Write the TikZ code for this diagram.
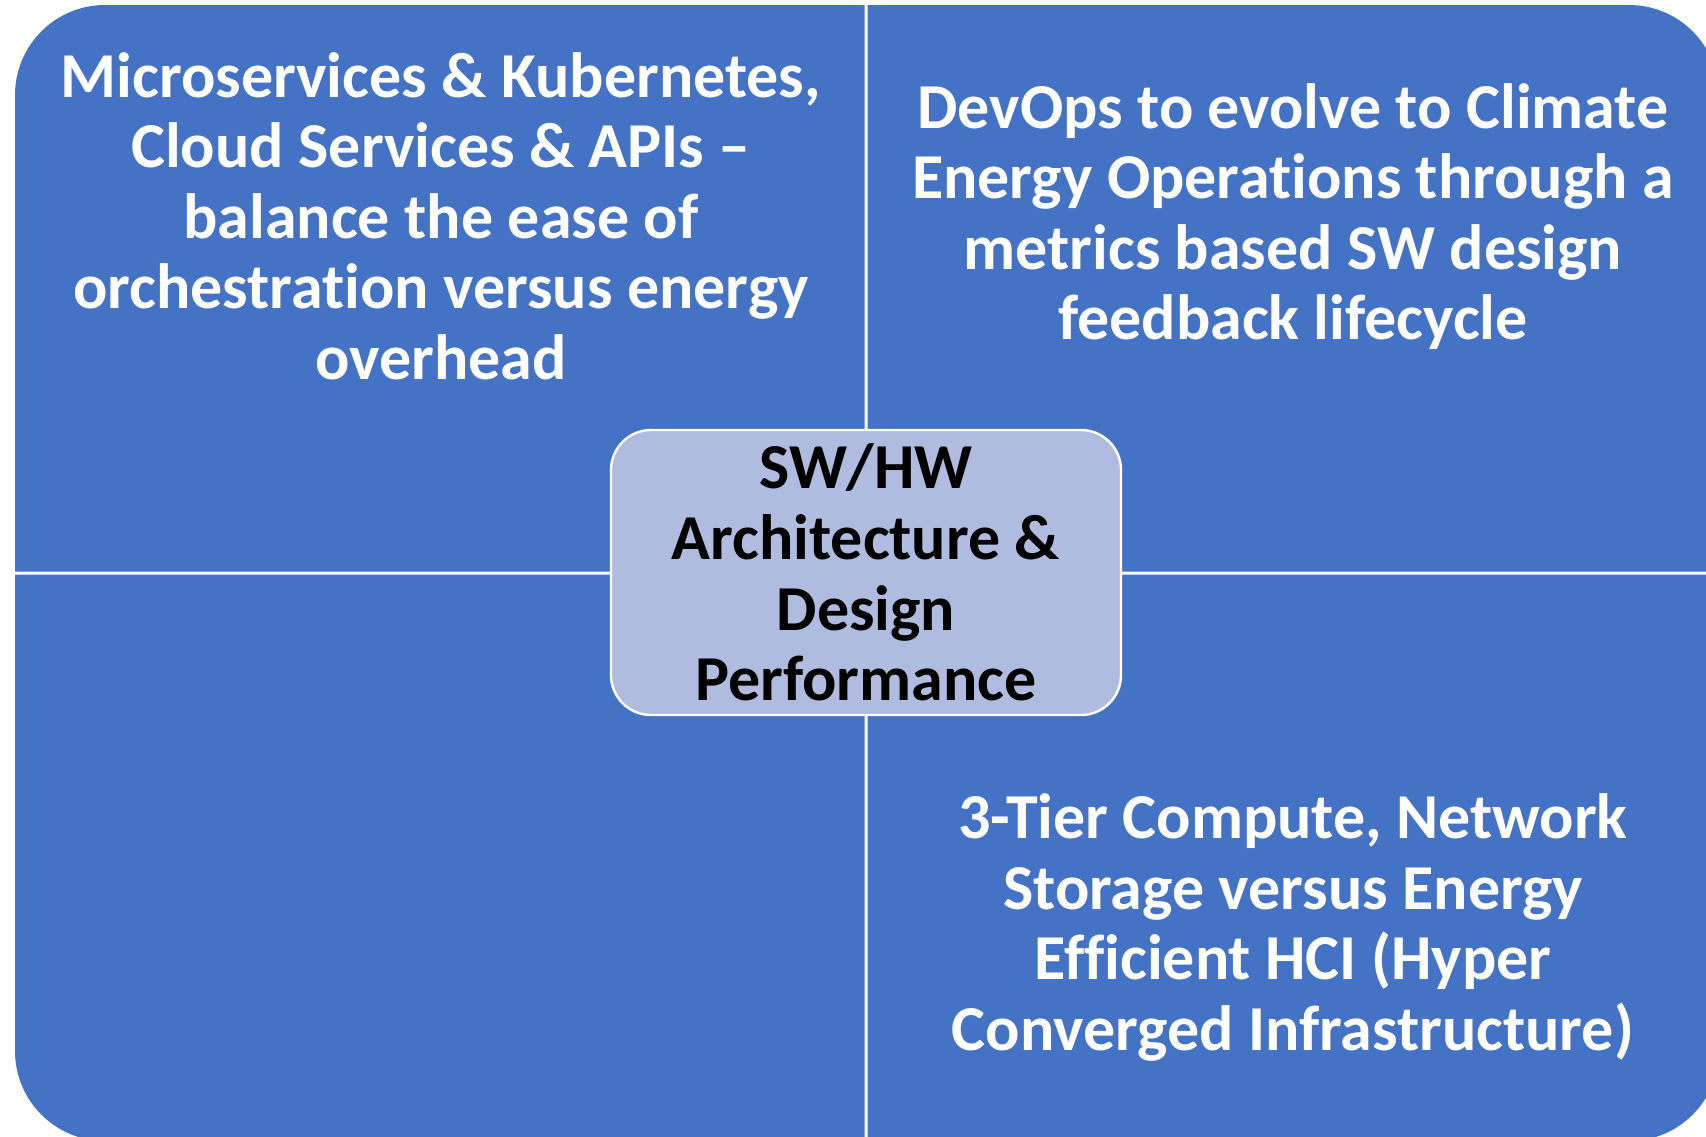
\documentclass[tikz,border=0pt]{standalone}
\usepackage{fontspec}
\setmainfont{Carlito}[Ligatures=NoCommon]
\definecolor{quadblue}{HTML}{4472C4}
\definecolor{hubblue}{HTML}{AFBCE0}
\tikzset{
  quad/.style={fill=quadblue},
  quadtext/.style={text=white, font=\bfseries\fontsize{32}{35.3}\selectfont, align=center, inner sep=0pt},
  hub/.style={draw=white, line width=1.2pt, fill=hubblue, rounded corners=20pt,
    minimum width=255pt, minimum height=142.5pt, align=center,
    font=\bfseries\fontsize{32}{35.3}\selectfont}
}
\begin{document}
\begin{tikzpicture}[x=0.5pt,y=-0.5pt]
    \useasboundingbox (0,0) rectangle (1706,1136);
    \fill[white] (0,0) rectangle (1706,1136);
    \clip (0,0) rectangle (1706,1136);
    % four quadrants, each rounded on its outer corner
    \fill[quad] (864.5,5) [rounded corners=45pt] -- (15,5) [sharp corners] -- (15,571.5) -- (864.5,571.5) -- cycle;
    \fill[quad] (867.5,5) [rounded corners=45pt] -- (1719,5) [sharp corners] -- (1719,571.5) -- (867.5,571.5) -- cycle;
    \fill[quad] (864.5,574.5) -- (15,574.5) [rounded corners=45pt] -- (15,1141) [sharp corners] -- (864.5,1141) -- cycle;
    \fill[quad] (867.5,574.5) -- (1719,574.5) [rounded corners=45pt] -- (1719,1141) [sharp corners] -- (867.5,1141) -- cycle;
    % texts
    \node[quadtext] (tl) at (441,216) {Microservices \& Kubernetes,\\Cloud Services \& APIs --\\balance the ease of\\orchestration versus energy\\overhead};
    \node[quadtext] (tr) at (1293,216.5) {DevOps to evolve to Climate\\Energy Operations through a\\metrics based SW design\\feedback lifecycle};
    \node[quadtext] (br) at (1293,927.5) {3-Tier Compute, Network\\Storage versus Energy\\Efficient HCI (Hyper\\Converged Infrastructure)};
    % centre box
    \node[hub] (hub) at (866,572.5) {SW/HW\\Architecture \&\\Design\\Performance};
\end{tikzpicture}
\end{document}
